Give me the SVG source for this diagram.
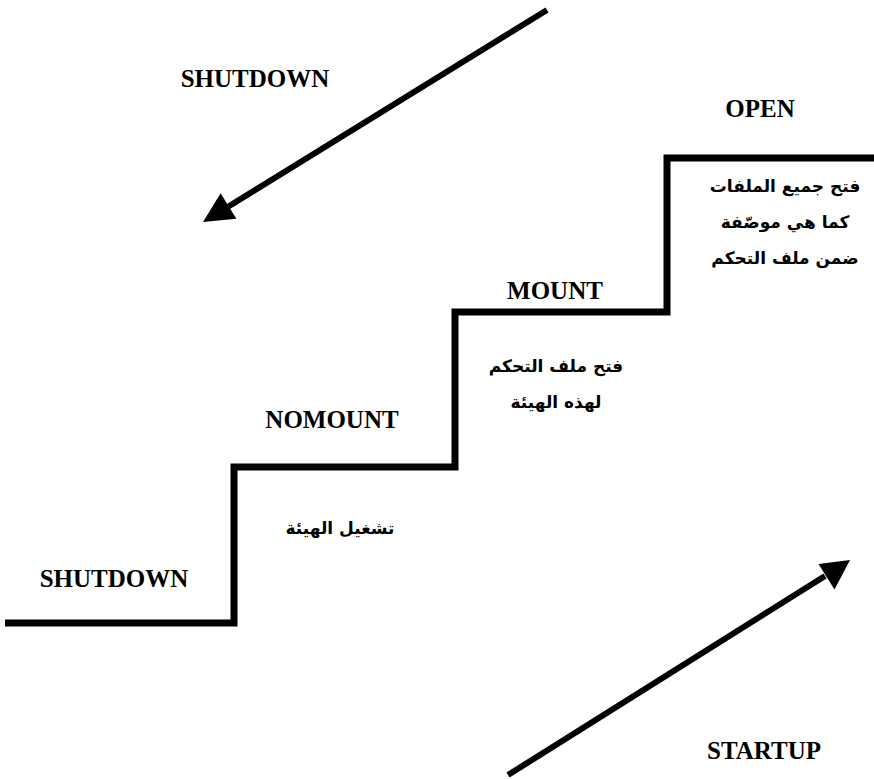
<svg xmlns="http://www.w3.org/2000/svg" width="874" height="779" viewBox="0 0 874 779">
  <style>
    .lbl { font-family: "Liberation Serif", "Times New Roman", serif; font-weight: bold; font-size: 25px; fill: #000; }
    .ar { font-family: "DejaVu Sans", "Noto Sans", sans-serif; font-weight: bold; font-size: 17px; fill: #000; direction: rtl; }
    .stair { fill: none; stroke: #000; stroke-width: 7; stroke-linejoin: miter; }
    .arr { stroke: #000; stroke-width: 6; fill: none; }
  </style>
  <rect width="874" height="779" fill="#fff"/>

  <g id="connectors">
    <path class="stair" d="M5,623 L234,623 L234,467 L455,467 L455,312 L667,312 L667,158 L874,158"/>
    <line class="arr" x1="547" y1="10" x2="226" y2="208"/>
    <polygon points="203,222 220.6,193.2 236.4,218.8" fill="#000"/>
    <line class="arr" x1="508" y1="775" x2="825" y2="576"/>
    <polygon points="850,560 818.5,564 834.5,589.5" fill="#000"/>
  </g>

  <g id="shutdown-top">
    <text class="lbl" x="255" y="87" text-anchor="middle">SHUTDOWN</text>
  </g>
  <g id="open">
    <text class="lbl" x="760" y="117" text-anchor="middle">OPEN</text>
    <text class="ar" x="785" y="192" text-anchor="middle">فتح جميع الملفات</text>
    <text class="ar" x="785" y="228" text-anchor="middle">كما هي موصّفة</text>
    <text class="ar" x="785" y="264" text-anchor="middle">ضمن ملف التحكم</text>
  </g>
  <g id="mount">
    <text class="lbl" x="555" y="299" text-anchor="middle">MOUNT</text>
    <text class="ar" x="556" y="372" text-anchor="middle">فتح ملف التحكم</text>
    <text class="ar" x="556" y="408" text-anchor="middle">لهذه الهيئة</text>
  </g>
  <g id="nomount">
    <text class="lbl" x="332" y="428" text-anchor="middle">NOMOUNT</text>
    <text class="ar" x="340" y="534" text-anchor="middle">تشغيل الهيئة</text>
  </g>
  <g id="shutdown-bottom">
    <text class="lbl" x="114" y="587" text-anchor="middle">SHUTDOWN</text>
  </g>
  <g id="startup">
    <text class="lbl" x="764" y="759" text-anchor="middle">STARTUP</text>
  </g>
</svg>
